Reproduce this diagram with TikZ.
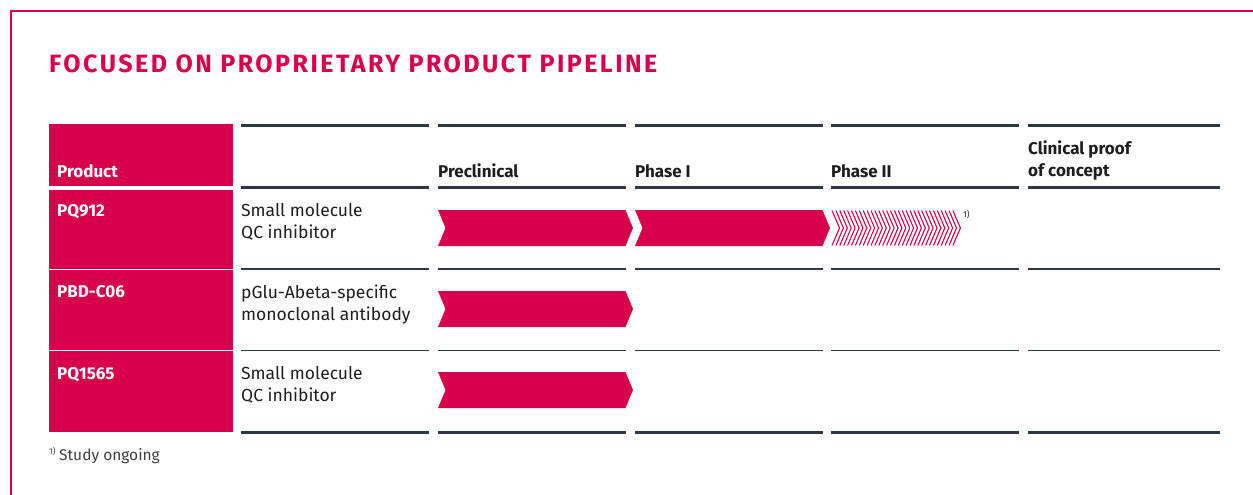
\documentclass[tikz,border=0pt]{standalone}
\usepackage{fontspec}
\setmainfont{Fira Sans}
\definecolor{pbred}{HTML}{D7004B}
\definecolor{pbline}{HTML}{2E3844}
\definecolor{pbtext}{HTML}{1E1E1E}
\tikzset{
  redbox/.style={fill=pbred, inner sep=0, anchor=north west},
  txt/.style={anchor=base west, inner sep=0, text=pbtext, font=\fontsize{17.5}{20}\selectfont},
  btxt/.style={txt, font=\fontsize{17}{20}\selectfont\bfseries},
  wtxt/.style={btxt, text=white},
  thick line/.style={pbline, line width=3},
  thin line/.style={pbline, line width=1.5},
}
\newcommand{\chevron}[3]{% x1, ytop, x2
  \fill[pbred] (#1,#2) -- ({#3-7.5},#2) -- (#3,{#2+18}) -- ({#3-7.5},{#2+36}) -- (#1,{#2+36}) -- ({#1+7.5},{#2+18}) -- cycle;}
\begin{document}
\begin{tikzpicture}[x=1pt,y=-1pt]
\useasboundingbox (0,0) rectangle (1253,495);
\fill[white] (0,0) rectangle (1253,495);
% frame
\draw[pbred, line width=2] (11,496) -- (11,11) -- (1254,11);
% title
\node[anchor=base west, inner sep=0, text=pbred, font=\fontsize{25}{30}\selectfont\bfseries\addfontfeature{LetterSpace=10}] (title) at (49,73) {FOCUSED ON PROPRIETARY PRODUCT PIPELINE};
% red product column
\node[redbox, minimum width=184, minimum height=62] (ph) at (49,124) {};
\node[redbox, minimum width=184, minimum height=78.5] (r1) at (49,190) {};
\node[redbox, minimum width=184, minimum height=80.5] (r2) at (49,269.5) {};
\node[redbox, minimum width=184, minimum height=81] (r3) at (49,351) {};
% horizontal rules
\foreach \a/\b in {241/429, 438/626, 635/823, 831/1019, 1028/1220}{
  \draw[thick line] (\a,125) -- (\b,125);
  \draw[thick line] (\a,187.5) -- (\b,187.5);
  \draw[thin line] (\a,269) -- (\b,269);
  \draw[thin line] (\a,350.5) -- (\b,350.5);
  \draw[thick line] (\a,432) -- (\b,432);
}
% header texts
\node[wtxt] (hprod) at (57,177) {Product};
\node[btxt] (hpre) at (438,177) {Preclinical};
\node[btxt] (hp1) at (635,177) {Phase I};
\node[btxt] (hp2) at (831,177) {Phase II};
\node[btxt] (hcp1) at (1028,154) {Clinical proof};
\node[btxt] (hcp2) at (1028,176.5) {of concept};
% rows
\node[wtxt] (n1) at (57,216.5) {PQ912};
\node[txt] (d1a) at (241,216.5) {Small molecule};
\node[txt] (d1b) at (241,238.5) {QC inhibitor};
\node[wtxt] (n2) at (57,297.5) {PBD-C06};
\node[txt] (d2a) at (241,298.5) {pGlu-Abeta-specific};
\node[txt] (d2b) at (241,320.5) {monoclonal antibody};
\node[wtxt] (n3) at (57,379) {PQ1565};
\node[txt] (d3a) at (241,379.5) {Small molecule};
\node[txt] (d3b) at (241,401.5) {QC inhibitor};
% chevrons
\chevron{438}{210}{633}
\chevron{635}{210}{830}
\foreach \i in {0,...,31}{
  \draw[pbred, line width=1.1] ({832+\i*3.9},210.5) -- ++(7.5,17.5) -- ++(-7.5,17.5);
}
\node[anchor=base west, inner sep=0, text=pbtext, font=\fontsize{8.5}{10}\selectfont] (fn1) at (963,217) {1)};
\chevron{438}{291}{633}
\chevron{438}{372}{633}
% footnote
\node[anchor=base west, inner sep=0, text=pbtext!85, font=\fontsize{8.5}{10}\selectfont] (fnm) at (49,454) {1)};
\node[anchor=base west, inner sep=0, text=pbtext!85, font=\fontsize{15.5}{18}\selectfont] (fnt) at (59,460) {Study ongoing};
\end{tikzpicture}
\end{document}
